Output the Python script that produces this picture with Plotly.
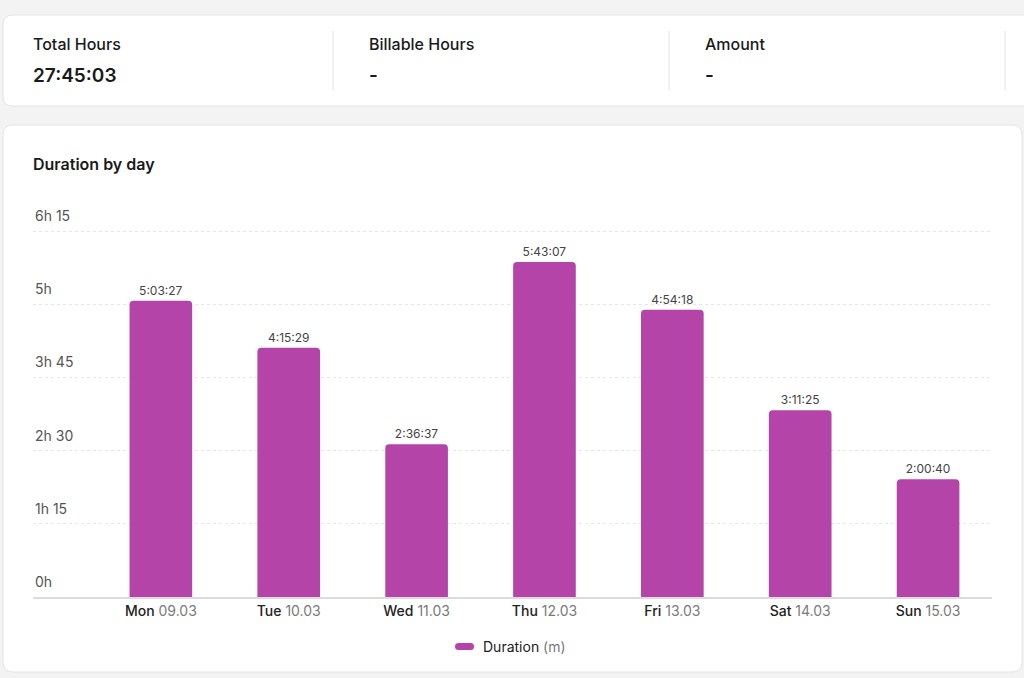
import plotly.graph_objects as go

# Duration per day, in minutes
days = ["Mon", "Tue", "Wed", "Thu", "Fri", "Sat", "Sun"]
dates = ["09.03", "10.03", "11.03", "12.03", "13.03", "14.03", "15.03"]
duration_labels = ["5:03:27", "4:15:29", "2:36:37", "5:43:07", "4:54:18", "3:11:25", "2:00:40"]
duration_min = [303.45, 255.48, 156.62, 343.12, 294.30, 191.42, 120.67]

y_tick_vals = [0, 75, 150, 225, 300, 375]
y_tick_text = ["0h", "1h 15", "2h 30", "3h 45", "5h", "6h 15"]

summary_titles = ["Total Hours", "Billable Hours", "Amount"]
summary_values = ["27:45:03", "-", "-"]

W, H = 1024, 678
L, R, T, B = 33, 992, 229, 597
FONT = "Inter, Roboto, sans-serif"
BAR = "#b444a8"


def px_x(x):
    return (x - L) / (R - L)


def px_y(y):
    return (B - y) / (B - T)


def rounded_rect(x0, y0, x1, y1, r):
    # pixel box -> paper path with rounded corners
    rx, ry = r / (R - L), r / (B - T)
    a, b, c, d = px_x(x0), px_y(y0), px_x(x1), px_y(y1)
    return (f"M{a + rx},{b} L{c - rx},{b} Q{c},{b} {c},{b - ry} "
            f"L{c},{d + ry} Q{c},{d} {c - rx},{d} L{a + rx},{d} "
            f"Q{a},{d} {a},{d + ry} L{a},{b - ry} Q{a},{b} {a + rx},{b} Z")


x_labels = [f"<span style='font-weight:500'>{d}</span> <span style='color:#7a7a7a'>{dt}</span>"
            for d, dt in zip(days, dates)]

fig = go.Figure()
fig.add_trace(go.Bar(
    x=x_labels, y=duration_min, text=duration_labels,
    textposition="outside", cliponaxis=False,
    textfont=dict(size=12, color="#444444", family=FONT),
    marker=dict(color=BAR, line=dict(width=0)),
    width=0.49, name="Duration (m)", showlegend=False,
    hovertemplate="%{text}<extra></extra>",
))

shapes = [
    dict(type="path", path=rounded_rect(3, 15, 1040, 106, 10), xref="paper", yref="paper",
         fillcolor="white", line=dict(color="#e4e4e4", width=1), layer="below"),
    dict(type="path", path=rounded_rect(3, 125, 1022, 672, 10), xref="paper", yref="paper",
         fillcolor="white", line=dict(color="#e4e4e4", width=1), layer="below"),
]
for xd in [333, 669, 1005]:
    shapes.append(dict(type="line", xref="paper", yref="paper", x0=px_x(xd), x1=px_x(xd),
                       y0=px_y(31), y1=px_y(90), line=dict(color="#e3e3e3", width=1)))
# legend pill
shapes.append(dict(type="path", path=rounded_rect(455, 643, 474, 650, 3.5), xref="paper", yref="paper",
                   fillcolor=BAR, line=dict(width=0)))

annotations = []
for i, (t, v) in enumerate(zip(summary_titles, summary_values)):
    x0 = 31 + i * 336
    annotations.append(dict(text=t, x=px_x(x0), y=px_y(44), xref="paper", yref="paper",
                            xanchor="left", yanchor="middle", showarrow=False,
                            font=dict(size=16, color="#1a1a1a", family=FONT, weight=500)))
    annotations.append(dict(text=v, x=px_x(x0), y=px_y(75), xref="paper", yref="paper",
                            xanchor="left", yanchor="middle", showarrow=False,
                            font=dict(size=19, color="#1a1a1a", family=FONT, weight=600)))

annotations.append(dict(text="Duration by day", x=px_x(31), y=px_y(164), xref="paper", yref="paper",
                        xanchor="left", yanchor="middle", showarrow=False,
                        font=dict(size=16, color="#1a1a1a", family=FONT, weight=600)))

for v, t in zip(y_tick_vals, y_tick_text):
    annotations.append(dict(text=t, x=0, y=v, xref="paper", yref="y",
                            xanchor="left", yanchor="bottom", yshift=5, showarrow=False,
                            font=dict(size=14, color="#555555", family=FONT)))

annotations.append(dict(text="Duration <span style='color:#7a7a7a'>(m)</span>",
                        x=px_x(481), y=px_y(646), xref="paper", yref="paper",
                        xanchor="left", yanchor="middle", showarrow=False,
                        font=dict(size=14, color="#222222", family=FONT)))

y_top = 375 * (B - T) / (B - 231)

fig.update_layout(
    width=W, height=H,
    margin=dict(l=L, r=W - R, t=T, b=H - B, pad=0),
    paper_bgcolor="#f3f3f3", plot_bgcolor="rgba(0,0,0,0)",
    font=dict(family=FONT, color="#222222"),
    barcornerradius=4,
    bargap=0.5,
    shapes=shapes, annotations=annotations,
    xaxis=dict(range=[-1, 6.5], showgrid=False, ticks="", showline=True,
               linecolor="#dcdcdc", linewidth=2,
               tickfont=dict(size=14, color="#222222", family=FONT)),
    yaxis=dict(range=[0, y_top], tickvals=y_tick_vals, showticklabels=False,
               showgrid=True, gridcolor="#e6e6e6", griddash="dot", gridwidth=1,
               zeroline=False, fixedrange=True),
)

fig.write_html("out.html", config={"displayModeBar": False},
               post_script="document.body.style.margin='0';")
